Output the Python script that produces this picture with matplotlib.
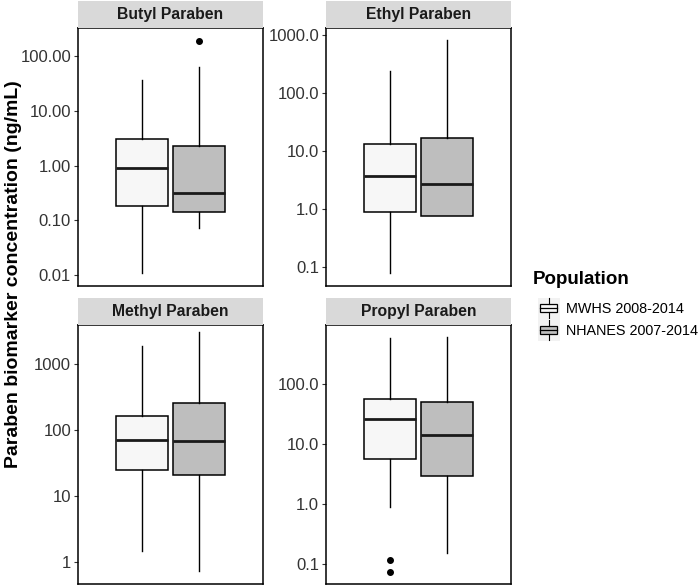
import matplotlib
matplotlib.use("Agg")
import matplotlib.pyplot as plt
from matplotlib.legend_handler import HandlerBase
from matplotlib.patches import Rectangle
from matplotlib.lines import Line2D
from matplotlib.ticker import FixedLocator, NullLocator

plt.rcParams['font.family'] = ['Liberation Sans', 'DejaVu Sans']

# --- DATA (ng/mL) ---
panels = ['Butyl Paraben', 'Ethyl Paraben', 'Methyl Paraben', 'Propyl Paraben']
groups = ['MWHS 2008-2014', 'NHANES 2007-2014']

# per panel: [MWHS, NHANES]
whislo = [[0.0108, 0.0736], [0.0776, 0.748], [1.46, 0.715], [0.89, 0.149]]
q1 = [[0.181, 0.1425], [0.887, 0.748], [25.0, 20.9], [5.51, 2.9]]
med = [[0.92, 0.32], [3.76, 2.67], [71.2, 68.7], [26.2, 14.0]]
q3 = [[3.04, 2.32], [13.1, 16.6], [166.0, 264.0], [55.3, 50.5]]
whishi = [[36.9, 63.0], [242.0, 819.0], [1910.0, 3120.0], [577.0, 600.0]]
fliers = [[[], [193.0]], [[], []], [[], []], [[0.115, 0.0716], []]]

ticks = [[0.01, 0.1, 1, 10, 100], [0.1, 1, 10, 100, 1000],
         [1, 10, 100, 1000], [0.1, 1, 10, 100]]
tick_labels = [['0.01', '0.10', '1.00', '10.00', '100.00'],
               ['0.1', '1.0', '10.0', '100.0', '1000.0'],
               ['1', '10', '100', '1000'],
               ['0.1', '1.0', '10.0', '100.0']]
ylims = [(0.0063, 326), (0.047, 1320), (0.46, 3980), (0.046, 962)]

FILLS = ['#F7F7F7', '#BEBEBE']

W, H = 700, 587
fig = plt.figure(figsize=(7, 5.87), dpi=100)

# panel boxes in pixel coords (left, top, right, bottom)
boxes_px = [(78, 28.3, 263, 286), (326, 28.3, 511, 286),
            (78, 325, 263, 584), (326, 325, 511, 584)]
strip_h = 27

for i, name in enumerate(panels):
    l, t, r, b = boxes_px[i]
    ax = fig.add_axes([l / W, 1 - b / H, (r - l) / W, (b - t) / H])
    stats = []
    for g in range(2):
        stats.append(dict(whislo=whislo[i][g], q1=q1[i][g], med=med[i][g],
                          q3=q3[i][g], whishi=whishi[i][g], fliers=fliers[i][g]))
    bp = ax.bxp(stats, positions=[0.815, 1.185], widths=0.335, patch_artist=True,
                showcaps=False,
                boxprops=dict(edgecolor='black', linewidth=1.1),
                medianprops=dict(color='#1a1a1a', linewidth=2.0),
                whiskerprops=dict(color='black', linewidth=1.0),
                flierprops=dict(marker='o', markerfacecolor='black',
                                markeredgecolor='black', markersize=4))
    for patch, c in zip(bp['boxes'], FILLS):
        patch.set_facecolor(c)
    ax.set_yscale('log')
    ax.set_ylim(*ylims[i])
    ax.set_xlim(0.4, 1.6)
    ax.yaxis.set_major_locator(FixedLocator(ticks[i]))
    ax.yaxis.set_minor_locator(NullLocator())
    ax.set_yticklabels(tick_labels[i])
    ax.set_xticks([])
    ax.tick_params(axis='y', length=3, width=0.8, colors='#333333',
                   labelsize=12, pad=2)
    for s in ax.spines.values():
        s.set_linewidth(1.1)
        s.set_color('black')
    # facet strip
    sax = fig.add_axes([l / W, 1 - t / H, (r - l) / W, strip_h / H])
    sax.set_facecolor('#D9D9D9')
    for s in sax.spines.values():
        s.set_visible(False)
    sax.set_xticks([])
    sax.set_yticks([])
    sax.text(0.5, 0.5, name, ha='center', va='center', fontsize=11.3,
             fontweight='bold', color='#1a1a1a', transform=sax.transAxes)

fig.text(14 / W, 1 - 274 / H, 'Paraben biomarker concentration (ng/mL)',
         rotation=90, ha='center', va='center', fontsize=14, fontweight='bold')


class BoxHandler(HandlerBase):
    def create_artists(self, legend, orig_handle, xdescent, ydescent,
                       width, height, fontsize, trans):
        x0, y0 = -xdescent, -ydescent
        bg = Rectangle((x0, y0 - 1.5), width, height + 3, facecolor='#F2F2F2',
                       edgecolor='none', transform=trans)
        bx = Rectangle((x0 + 0.12 * width, y0 + 0.27 * height), 0.76 * width,
                       0.46 * height, facecolor=orig_handle.get_facecolor(),
                       edgecolor='black', linewidth=0.9, transform=trans)
        m = Line2D([x0 + 0.12 * width, x0 + 0.88 * width],
                   [y0 + 0.5 * height] * 2, color='black', lw=0.9, transform=trans)
        w1 = Line2D([x0 + 0.5 * width] * 2, [y0 + 0.73 * height, y0 + height + 1],
                    color='black', lw=0.8, transform=trans)
        w2 = Line2D([x0 + 0.5 * width] * 2, [y0 - 1, y0 + 0.27 * height],
                    color='black', lw=0.8, transform=trans)
        return [bg, bx, m, w1, w2]


fig.text(533 / W, 1 - 279 / H, 'Population', ha='left', va='center',
         fontsize=13.5, fontweight='bold')
handles = [Rectangle((0, 0), 1, 1, facecolor=c) for c in FILLS]
leg = fig.legend(handles, groups, loc='upper left',
                 bbox_to_anchor=(532 / W, 1 - 294 / H), frameon=False,
                 handler_map={Rectangle: BoxHandler()}, fontsize=10.4,
                 handlelength=1.55, handleheight=1.45, handletextpad=0.4,
                 labelspacing=0.3, borderaxespad=0)

fig.savefig('out.png', dpi=100)
